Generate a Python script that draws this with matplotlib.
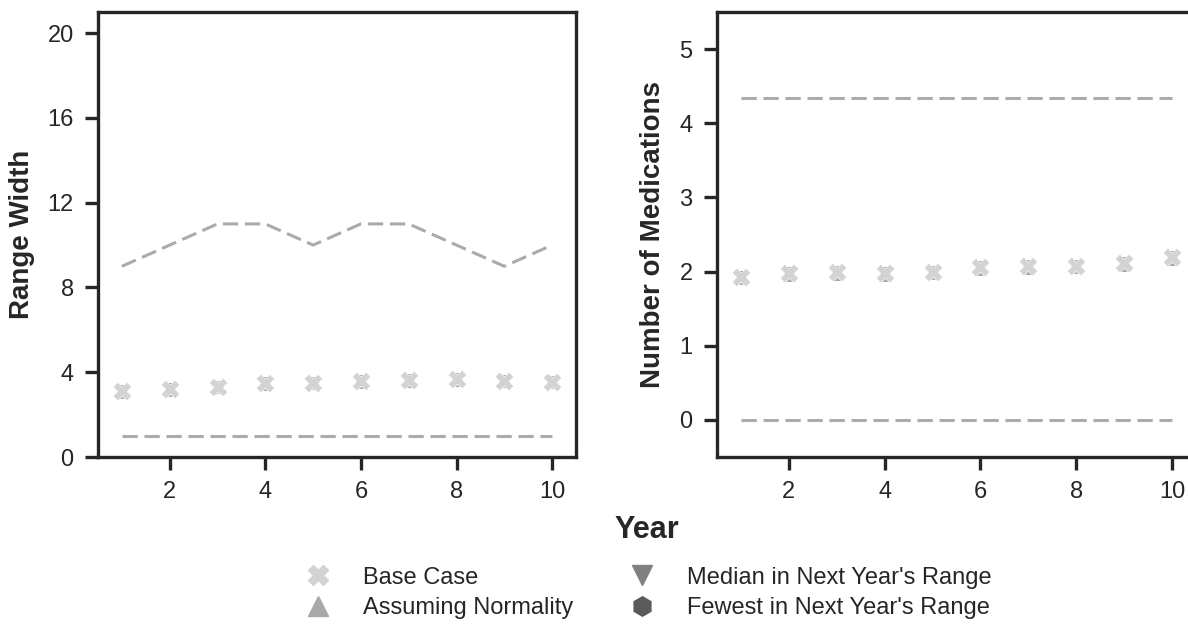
import matplotlib
matplotlib.use("Agg")
import matplotlib.pyplot as plt
from matplotlib.lines import Line2D

plt.rcParams["font.family"] = ["Liberation Sans", "DejaVu Sans"]

years = [1, 2, 3, 4, 5, 6, 7, 8, 9, 10]

# Range width panel
width_upper = [9, 10, 11, 11, 10, 11, 11, 10, 9, 10]
width_lower = [1, 1, 1, 1, 1, 1, 1, 1, 1, 1]
width_base = [3.11, 3.19, 3.32, 3.48, 3.50, 3.58, 3.62, 3.68, 3.60, 3.55]
width_normal = [3.08, 3.16, 3.29, 3.45, 3.47, 3.55, 3.59, 3.65, 3.57, 3.52]
width_median = [3.11, 3.19, 3.32, 3.48, 3.50, 3.58, 3.62, 3.68, 3.60, 3.55]
width_fewest = [3.11, 3.19, 3.32, 3.48, 3.50, 3.58, 3.62, 3.68, 3.60, 3.55]

# Number of medications panel
meds_upper = [4.34] * 10
meds_lower = [0] * 10
meds_base = [1.93, 1.98, 1.99, 1.98, 2.00, 2.06, 2.07, 2.08, 2.11, 2.19]
meds_normal = [1.91, 1.96, 1.97, 1.96, 1.98, 2.04, 2.05, 2.06, 2.09, 2.17]
meds_median = [1.93, 1.98, 1.99, 1.98, 2.00, 2.06, 2.07, 2.08, 2.11, 2.19]
meds_fewest = [1.93, 1.98, 1.99, 1.98, 2.00, 2.06, 2.07, 2.08, 2.11, 2.19]

series_labels = ["Base Case", "Assuming Normality",
                 "Median in Next Year's Range", "Fewest in Next Year's Range"]
c_base, c_norm, c_med, c_few = "#d3d3d3", "#a9a9a9", "#808080", "#5a5a5a"
dash_color = "#ababab"
ink = "#262626"

fig = plt.figure(figsize=(11.88, 6.25), dpi=100)
ax1 = fig.add_axes([98 / 1188, 168 / 625, 478 / 1188, 445 / 625])
ax2 = fig.add_axes([717 / 1188, 168 / 625, 479 / 1188, 445 / 625])


def draw_panel(ax, upper, lower, base, normal, median, fewest):
    ax.plot(years, upper, ls=(0, (5, 2.2)), color=dash_color, lw=2.2, zorder=2)
    ax.plot(years, lower, ls=(0, (5, 2.2)), color=dash_color, lw=2.2, zorder=2)
    ax.scatter(years, fewest, marker="h", s=50, color=c_few, zorder=3)
    ax.scatter(years, median, marker="v", s=70, color=c_med, zorder=4)
    ax.scatter(years, normal, marker="^", s=70, color=c_norm, zorder=5)
    ax.scatter(years, base, marker="X", s=180, color=c_base, edgecolor="white",
               linewidth=0.5, zorder=6)
    ax.set_xlim(0.5, 10.5)
    ax.set_xticks([2, 4, 6, 8, 10])
    for sp in ["top", "right", "bottom", "left"]:
        ax.spines[sp].set_linewidth(2.4)
        ax.spines[sp].set_color(ink)
    ax.tick_params(axis="both", direction="out", length=9.5, width=2.4,
                   color=ink, labelsize=17, labelcolor=ink, pad=8)


draw_panel(ax1, width_upper, width_lower, width_base, width_normal,
           width_median, width_fewest)
ax1.set_ylim(0, 21)
ax1.set_yticks([0, 4, 8, 12, 16, 20])
ax1.set_ylabel("Range Width", fontsize=20, fontweight="bold", color=ink)
ax1.yaxis.set_label_coords(-0.131, 0.5)

draw_panel(ax2, meds_upper, meds_lower, meds_base, meds_normal,
           meds_median, meds_fewest)
ax2.set_ylim(-0.5, 5.5)
ax2.set_yticks([0, 1, 2, 3, 4, 5])
ax2.set_ylabel("Number of Medications", fontsize=20, fontweight="bold", color=ink)
ax2.yaxis.set_label_coords(-0.107, 0.5)

fig.text(647 / 1188, 1 - 530 / 625, "Year", fontsize=22, fontweight="bold",
         ha="center", va="center", color=ink)

handles = [
    Line2D([], [], ls="none", marker="X", markersize=15, color=c_base),
    Line2D([], [], ls="none", marker="^", markersize=14, color=c_norm),
    Line2D([], [], ls="none", marker="v", markersize=14, color=c_med),
    Line2D([], [], ls="none", marker="h", markersize=14, color=c_few),
]
fig.legend(handles, series_labels, ncol=2, loc="center",
           bbox_to_anchor=(643 / 1188, 1 - 593 / 625), frameon=False,
           fontsize=17, handletextpad=0.9, columnspacing=1.9,
           labelspacing=0.36, labelcolor=ink)

fig.savefig("out.png", dpi=100)
